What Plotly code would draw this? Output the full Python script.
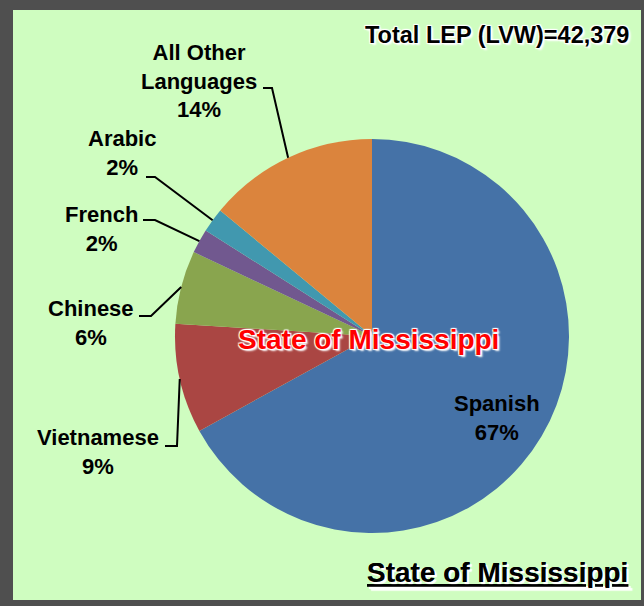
import math
import plotly.graph_objects as go

# ---- data ----
languages = ["Spanish", "Vietnamese", "Chinese", "French", "Arabic", "All Other Languages"]
label_text = ["Spanish", "Vietnamese", "Chinese", "French", "Arabic", "All Other<br>Languages"]
shares = [67, 9, 6, 2, 2, 14]
colors = ["#4572A7", "#AA4643", "#89A54E", "#71588F", "#4198AF", "#DB843D"]
total_text = "Total LEP (LVW)=42,379"
region = "State of Mississippi"

W, H = 644, 606
CX, CY, R = 372, 336, 197  # pie centre / radius in pixels


def px(x):
    return x / W


def py(y):
    return 1 - y / H


fig = go.Figure()
fig.add_trace(go.Pie(
    labels=languages, values=shares, sort=False, direction="clockwise",
    rotation=0, marker=dict(colors=colors, line=dict(width=0)),
    textinfo="none", hoverinfo="skip", showlegend=False,
    domain=dict(x=[px(CX - R), px(CX + R)], y=[py(CY + R), py(CY - R)]),
))

# slice mid-angles from data
tot = sum(shares)
mids = []
acc = 0
for v in shares:
    mids.append((acc + v / 2) / tot * 360)
    acc += v


def edge_point(i):
    a = math.radians(mids[i])
    return CX + R * math.sin(a), CY - R * math.cos(a)


lab_font = dict(family="Liberation Sans Narrow, Arial Narrow, Liberation Sans, Arial",
                size=22, color="black", weight="bold")

# label placements (pixel centre of the text block) and leader elbow start/end
placements = {
    0: dict(pos=(497, 418), leader=None),
    1: dict(pos=(98, 452), leader=((165, 446), (177, 446))),
    2: dict(pos=(91, 323), leader=((139, 316), (151, 316))),
    3: dict(pos=(101, 229), leader=((143, 220), (155, 220))),
    4: dict(pos=(122, 153), leader=((146, 177), (155, 177))),
    5: dict(pos=(199, 81), leader=((263, 88), (272, 88))),
}

annotations = []
shapes = [dict(type="rect", xref="paper", yref="paper",
               x0=px(13), x1=px(641), y0=py(600), y1=py(10),
               fillcolor="#CFFDC0", line=dict(width=0), layer="below")]

for i, p in placements.items():
    x, y = p["pos"]
    annotations.append(dict(
        x=px(x), y=py(y), xref="paper", yref="paper", showarrow=False,
        text=f"{label_text[i]}<br>{shares[i]}%", font=lab_font,
        align="center", xanchor="center", yanchor="middle"))
    if p["leader"]:
        (x0, y0), (x1, y1) = p["leader"]
        ex, ey = edge_point(i)
        path = f"M {px(x0)},{py(y0)} L {px(x1)},{py(y1)} L {px(ex)},{py(ey)}"
        shapes.append(dict(type="path", xref="paper", yref="paper", path=path,
                           line=dict(color="black", width=2)))

halo_w = "1px 1px 1px white, -1px -1px 1px white, 1px -1px 1px white, -1px 1px 1px white, 2px 2px 2px white"

annotations.append(dict(
    x=px(497), y=py(35), xref="paper", yref="paper", showarrow=False,
    text=total_text, xanchor="center", yanchor="middle",
    font=dict(family="Liberation Sans, Arial", size=23.5, color="black", weight="bold",
              shadow=halo_w)))

annotations.append(dict(
    x=px(368), y=py(339), xref="paper", yref="paper", showarrow=False,
    text=region, xanchor="center", yanchor="middle",
    font=dict(family="Liberation Sans, Arial", size=28, color="#FF0000", weight="bold",
              shadow=halo_w)))

annotations.append(dict(
    x=px(497), y=py(572), xref="paper", yref="paper", showarrow=False,
    text=region, xanchor="center", yanchor="middle",
    font=dict(family="Liberation Sans, Arial", size=28, color="black", weight="bold",
              lineposition="under", shadow="2px 2px 1px white")))

fig.update_layout(
    width=W, height=H, margin=dict(l=0, r=0, t=0, b=0),
    paper_bgcolor="#4F4F4F", annotations=annotations, shapes=shapes,
)

fig.write_html("out.html", config={"displayModeBar": False},
               post_script="document.body.style.margin='0';document.body.style.overflow='hidden';")
